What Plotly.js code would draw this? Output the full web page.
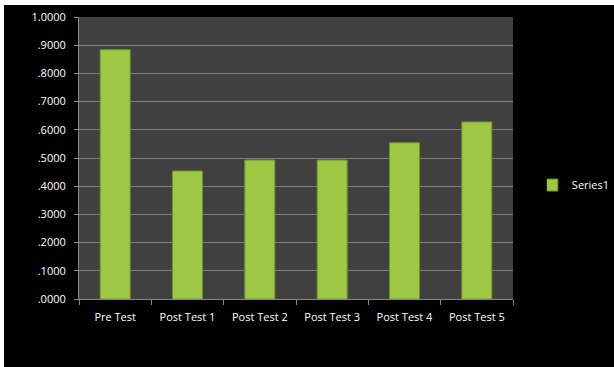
<!DOCTYPE html>
<html>
<head>
<meta charset="utf-8">
<script src="https://cdn.plot.ly/plotly-3.0.1.min.js"></script>
<style>
html,body{margin:0;padding:0;background:#ffffff;width:614px;height:367px;overflow:hidden;}
#chart{position:absolute;left:4px;top:5px;width:610px;height:362px;}
</style>
</head>
<body>
<div id="chart"></div>
<script>
var categories = ["Pre Test", "Post Test 1", "Post Test 2", "Post Test 3", "Post Test 4", "Post Test 5"];
var values = [0.884, 0.454, 0.493, 0.493, 0.554, 0.628];
var yTickVals = [0, 0.1, 0.2, 0.3, 0.4, 0.5, 0.6, 0.7, 0.8, 0.9, 1.0];
var yTickText = [".0000", ".1000", ".2000", ".3000", ".4000", ".5000", ".6000", ".7000", ".8000", ".9000", "1.0000"];
var seriesName = "Series1";

var trace = {
  type: "bar",
  x: categories,
  y: values,
  name: seriesName,
  marker: {color: "#9cc843", line: {color: "#6e9128", width: 1}},
  hoverinfo: "none"
};

var font = {family: "Open Sans, Liberation Sans, sans-serif", size: 11, color: "#ffffff"};

var layout = {
  width: 610,
  height: 362,
  margin: {l: 75, r: 101, t: 12, b: 68, autoexpand: false},
  paper_bgcolor: "#000000",
  plot_bgcolor: "#404040",
  font: font,
  showlegend: true,
  bargap: 0.585,
  legend: {x: 1.078, xanchor: "left", y: 0.404, yanchor: "middle", font: font, bgcolor: "rgba(0,0,0,0)", itemwidth: 30, indentation: -15, tracegroupgap: 0},
  xaxis: {
    type: "category",
    showgrid: false,
    showline: true,
    linecolor: "#8a8a8a",
    linewidth: 1,
    ticks: "outside",
    tickson: "boundaries",
    ticklen: 5,
    tickcolor: "#8a8a8a",
    tickfont: font,
    ticklabelstandoff: 8,
    zeroline: false,
    automargin: false
  },
  yaxis: {
    range: [0, 1.0],
    tickvals: yTickVals,
    ticktext: yTickText,
    showgrid: true,
    gridcolor: "#808080",
    gridwidth: 1,
    showline: true,
    linecolor: "#8a8a8a",
    linewidth: 1,
    ticks: "outside",
    ticklen: 4,
    tickcolor: "#8a8a8a",
    tickfont: font,
    ticklabelstandoff: 6,
    zeroline: false,
    automargin: false
  }
};

Plotly.newPlot("chart", [trace], layout, {displayModeBar: false, staticPlot: true});
</script>
</body>
</html>
